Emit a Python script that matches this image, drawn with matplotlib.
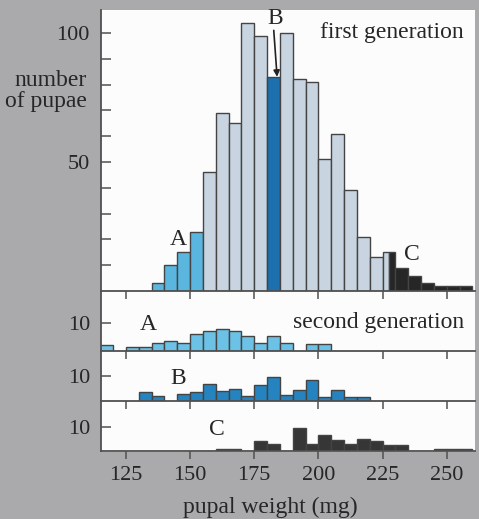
import numpy as np
import matplotlib
matplotlib.use("Agg")
import matplotlib.pyplot as plt
from matplotlib.patches import Rectangle

plt.rcParams['font.family'] = ['Liberation Serif', 'DejaVu Serif']

# first generation histogram (5 mg bins, the 225-230 bin is split between grey and C)
first_edges = [135, 140, 145, 150, 155, 160, 165, 170, 175, 180, 185, 190, 195, 200,
               205, 210, 215, 220, 225, 227.5, 230, 235, 240, 245, 250, 255, 260]
first_counts = [3, 10, 15, 23, 46, 69, 65, 104, 99, 83, 100, 82, 81, 51,
                61, 39, 21, 13, 15, 15, 9, 6, 3, 2, 2, 2]
first_group = ['A'] * 4 + ['o'] * 5 + ['B'] + ['o'] * 9 + ['C'] * 7

# second generation, offspring of selected groups A, B, C
secA_start, secA = 115, [2, 0, 1.5, 1.5, 3, 3.5, 3, 6, 7, 8, 7, 5.5, 3, 5.5, 3, 0, 2.5, 2.5]
secB_start, secB = 130, [3.5, 2, 0, 3, 3.5, 7, 4, 5, 2, 6.5, 9.5, 2.5, 4.5, 8.5, 1.5, 4.5, 1.5, 1.5]
secC_start, secC = 160, [1, 1, 0, 4, 3, 0, 9.5, 3, 6.5, 4.5, 3, 5, 4, 2.5, 2.5, 0, 0, 1, 1, 1]
bin_w = 5

xticks = [125, 150, 175, 200, 225, 250]

colors = {'o': '#c8d5e1', 'A': '#5ab6df', 'B': '#1c70ad', 'C': '#262626'}
sec_colors = ['#6cc1e6', '#2583bf', '#363636']
edge = '#444444'
txt = '#262626'
spc = '#505050'

W, H = 479, 519
fig = plt.figure(figsize=(W / 100, H / 100), dpi=100)
fig.patch.set_facecolor('#aaaaac')
fig.patches.append(Rectangle((101 / W, 1 - 452 / H), 374 / W, 442 / H,
                             transform=fig.transFigure, facecolor='#fcfcfc',
                             edgecolor='none', zorder=-5))


def px_axes(top, bottom):
    return fig.add_axes([101 / W, 1 - bottom / H, 374 / W, (bottom - top) / H])


def style(ax):
    ax.set_facecolor('none')
    for s in ['top', 'right']:
        ax.spines[s].set_visible(False)
    for s in ['left', 'bottom']:
        ax.spines[s].set_color(spc)
        ax.spines[s].set_linewidth(1.3)
    ax.set_xlim(115.3, 261)
    ax.set_xticks(xticks)
    ax.tick_params(axis='x', direction='out', length=6, width=1.1, color=spc,
                   labelbottom=False)
    ax.tick_params(axis='y', which='both', direction='in', length=7, width=1.1,
                   color=spc, labelsize=16, labelcolor=txt, pad=8)


# top panel
ax0 = px_axes(10, 291)
style(ax0)
ax0.set_ylim(0, 108.9)
left = first_edges[:-1]
widths = np.diff(first_edges)
ax0.bar(left, first_counts, width=widths, align='edge',
        color=[colors[g] for g in first_group], edgecolor=edge, linewidth=1.0)
ax0.set_yticks([50, 100])
ax0.set_yticks(np.arange(10, 101, 10), minor=True)
ax0.text(228.5, 100, 'first generation', fontsize=17, color=txt, ha='center', va='center')
ax0.text(145.3, 19.8, 'A', fontsize=17, color=txt, ha='center', va='center')
ax0.text(236.5, 14, 'C', fontsize=17, color=txt, ha='center', va='center')
ax0.text(183.0, 105.5, 'B', fontsize=17, color=txt, ha='center', va='center')
ax0.annotate('', xy=(183.9, first_counts[first_group.index('B')]), xytext=(182.6, 101),
             arrowprops=dict(arrowstyle='-|>', color='#222222', lw=1.2, mutation_scale=9,
                             shrinkA=0, shrinkB=0))

# second generation panels
panels = [(291, 351, 21.4, secA_start, secA, 'A', 133.6, 9.3),
          (351, 401, 20.0, secB_start, secB, 'B', 145.3, 9.2),
          (401, 451, 20.8, secC_start, secC, 'C', 160.5, 8.8)]
axs = []
for i, (t, b, ymax, start, vals, lab, lx, ly) in enumerate(panels):
    ax = px_axes(t, b)
    style(ax)
    ax.set_ylim(0, ymax)
    xs = np.array([start + k * bin_w for k in range(len(vals))])
    v = np.array(vals, dtype=float)
    m = v > 0
    ax.bar(xs[m], v[m], width=bin_w, align='edge', color=sec_colors[i],
           edgecolor=edge, linewidth=1.0)
    ax.set_yticks([10])
    ax.text(lx, ly, lab, fontsize=17, color=txt, ha='center', va='center')
    axs.append(ax)

axs[0].text(223.4, 10, 'second generation', fontsize=17, color=txt, ha='center', va='center')
axs[-1].tick_params(axis='x', labelbottom=True, labelsize=16, labelcolor=txt, pad=5)

fig.text(87 / W, 1 - 91 / H, 'number\nof pupae', fontsize=17, color=txt,
         ha='right', va='center', linespacing=1.0)
fig.text(270 / W, 1 - 507 / H, 'pupal weight (mg)', fontsize=17, color=txt,
         ha='center', va='center')

fig.savefig('out.png', dpi=100, facecolor=fig.get_facecolor())
